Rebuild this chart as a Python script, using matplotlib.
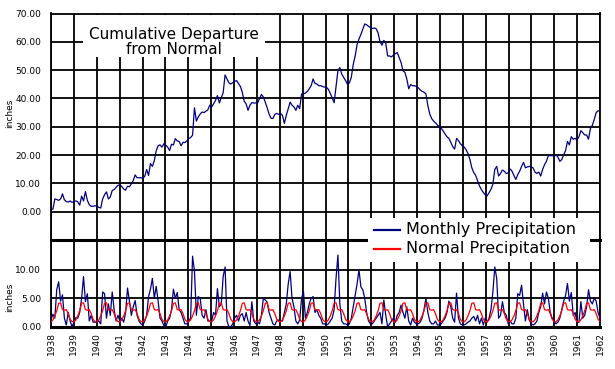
import numpy as np
import matplotlib
matplotlib.use("Agg")
import matplotlib.pyplot as plt
from matplotlib.patches import Rectangle
from matplotlib.lines import Line2D

# ---- data (monthly, Jan 1938 .. Dec 1961) ----
years = list(range(1938, 1963))

# normal precipitation, Jan..Dec (inches)
normal_month = [0.85, 1.2, 1.9, 2.8, 4.1, 4.2, 3.0, 2.9, 3.0, 2.3, 1.3, 0.9]

# cumulative departure from normal (inches), one row per year
cum_departure = [
    0.8, 0.9, 4.5, 4.3, 4.0, 4.5, 6.3, 4.2, 3.6, 3.4, 3.8, 3.3,        # 1938
    3.6, 3.8, 3.5, 2.3, 5.5, 3.8, 7.1, 4.0, 2.5, 1.9, 1.9, 2.1,        # 1939
    2.0, 1.5, 1.3, 4.5, 6.0, 7.0, 4.5, 5.2, 7.5, 7.8, 8.6, 9.3,        # 1940
    9.5, 8.9, 8.0, 7.6, 9.0, 8.8, 9.8, 11.0, 13.0, 12.0, 12.0, 12.0,   # 1941
    11.8, 12.5, 14.9, 12.8, 17.0, 16.0, 18.0, 21.5, 23.3, 23.6, 22.8, 24.0,  # 1942
    23.5, 22.8, 21.6, 23.8, 23.6, 25.8, 25.0, 24.8, 23.3, 24.5, 24.4, 25.0,  # 1943
    25.8, 26.2, 27.0, 36.7, 32.0, 33.5, 34.5, 35.2, 35.0, 35.5, 36.0, 37.6,  # 1944
    37.0, 38.1, 39.3, 41.0, 38.4, 40.2, 42.0, 48.3, 46.9, 45.5, 45.1, 45.6,  # 1945
    46.0, 46.3, 45.3, 44.2, 42.2, 39.0, 38.1, 35.8, 37.6, 38.5, 38.4, 38.4,  # 1946
    38.4, 39.9, 41.4, 40.5, 38.7, 36.7, 34.5, 33.0, 32.9, 34.4, 34.7, 34.4,  # 1947
    34.7, 34.0, 31.2, 34.0, 36.4, 38.7, 37.6, 37.0, 35.8, 37.6, 36.4, 41.6,  # 1948
    41.6, 41.9, 42.5, 43.4, 44.5, 46.9, 45.3, 45.1, 44.5, 44.5, 44.2, 44.0,  # 1949
    44.0, 43.2, 41.8, 40.2, 38.5, 44.0, 49.8, 50.9, 48.6, 47.4, 46.3, 45.0,  # 1950
    45.5, 47.5, 52.0, 55.0, 59.0, 61.0, 62.6, 64.5, 66.3, 66.0, 65.5, 65.0,  # 1951
    64.7, 64.9, 64.6, 63.1, 60.0, 58.8, 60.5, 59.5, 55.0, 55.0, 54.7, 55.3,  # 1952
    55.8, 56.2, 54.4, 52.7, 49.8, 49.2, 46.9, 43.4, 44.9, 44.5, 44.5, 44.2,  # 1953
    43.8, 43.0, 42.5, 42.2, 41.6, 37.5, 34.5, 32.9, 32.0, 31.4, 30.6, 30.0,  # 1954
    29.5, 28.5, 27.4, 26.5, 25.9, 24.5, 23.0, 22.1, 25.9, 25.1, 24.0, 23.3,  # 1955
    22.8, 21.9, 20.5, 18.4, 15.5, 13.8, 12.8, 11.0, 9.1, 7.8, 6.8, 6.0,      # 1956
    5.6, 6.7, 7.9, 9.7, 14.9, 16.0, 12.6, 13.5, 14.7, 14.3, 13.5, 13.7,      # 1957
    15.1, 14.3, 12.8, 11.4, 13.1, 14.3, 16.0, 17.4, 15.5, 15.8, 16.0, 15.8,  # 1958
    15.5, 14.0, 13.5, 14.0, 12.6, 14.9, 16.6, 17.8, 19.8, 19.8, 19.8, 19.5,  # 1959
    20.1, 19.3, 17.8, 18.4, 20.1, 21.6, 24.8, 23.6, 26.5, 25.6, 25.9, 25.3,  # 1960
    26.5, 28.6, 27.9, 27.1, 27.1, 25.6, 29.4, 30.5, 32.6, 35.0, 35.6, 35.6,  # 1961
]

# monthly precipitation (inches)
monthly_precip = [
    1.2, 2.2, 1.5, 6.5, 7.9, 4.5, 5.6, 1.5, 0.3, 2.5, 1.0, 0.0,     # 1938
    0.8, 1.6, 1.5, 2.5, 5.0, 8.8, 4.4, 5.8, 1.0, 2.0, 0.8, 0.8,     # 1939
    0.8, 1.0, 0.5, 6.1, 5.8, 1.5, 4.0, 2.0, 6.1, 3.0, 1.0, 2.0,     # 1940
    1.0, 1.5, 0.8, 2.5, 6.8, 4.5, 2.0, 3.5, 4.6, 2.0, 1.0, 0.5,     # 1941
    0.3, 1.0, 2.0, 5.3, 6.6, 8.5, 5.0, 7.1, 4.5, 1.5, 1.0, 0.2,     # 1942
    0.0, 1.0, 1.5, 3.0, 6.6, 5.0, 6.0, 3.0, 2.5, 1.5, 0.5, 0.5,     # 1943
    1.0, 1.5, 12.4, 9.8, 2.0, 5.3, 5.0, 2.0, 1.5, 3.0, 1.0, 1.0,    # 1944
    1.0, 2.5, 2.0, 6.7, 3.5, 4.0, 8.8, 10.5, 1.0, 0.0, 0.0, 0.5,    # 1945
    1.5, 2.0, 1.0, 2.0, 2.3, 1.0, 2.5, 1.0, 0.2, 4.4, 1.0, 0.5,     # 1946
    0.8, 0.5, 2.0, 5.0, 4.7, 4.3, 2.5, 1.5, 0.5, 0.3, 1.0, 1.2,     # 1947
    1.0, 1.0, 2.5, 4.0, 7.5, 9.7, 5.0, 3.5, 1.0, 0.5, 1.2, 5.0,     # 1948
    6.2, 1.5, 2.5, 4.0, 5.0, 5.3, 2.5, 3.0, 2.0, 1.5, 0.5, 0.5,     # 1949
    0.3, 0.5, 1.0, 1.5, 3.0, 8.5, 12.6, 4.0, 1.0, 0.5, 0.5, 0.3,    # 1950
    0.5, 1.5, 3.5, 5.6, 7.5, 10.0, 7.0, 6.5, 5.0, 2.5, 1.0, 0.5,    # 1951
    0.5, 1.0, 1.5, 2.0, 2.5, 0.5, 4.7, 2.0, 0.0, 0.5, 1.0, 1.5,     # 1952
    0.8, 2.0, 2.5, 3.8, 2.5, 1.5, 3.5, 1.0, 0.3, 1.5, 0.8, 0.5,     # 1953
    0.5, 0.8, 1.5, 3.0, 5.0, 2.5, 1.0, 0.5, 0.5, 1.0, 0.3, 0.3,     # 1954
    0.5, 1.0, 1.5, 2.5, 4.5, 3.5, 1.5, 0.8, 5.9, 1.5, 0.5, 0.3,     # 1955
    0.3, 0.5, 0.8, 1.0, 1.5, 1.8, 1.0, 2.0, 0.5, 1.5, 0.3, 1.5,     # 1956
    0.8, 1.5, 3.0, 6.1, 10.5, 8.5, 1.5, 2.0, 4.4, 2.5, 2.0, 0.5,    # 1957
    1.0, 0.5, 0.5, 1.5, 5.8, 5.5, 7.3, 4.0, 1.0, 3.0, 1.2, 0.5,     # 1958
    0.3, 0.5, 1.0, 2.5, 3.5, 5.9, 4.0, 6.1, 5.0, 2.5, 1.5, 1.0,     # 1959
    0.5, 0.8, 1.5, 3.0, 4.5, 5.5, 7.6, 4.5, 6.0, 2.0, 2.5, 0.8,     # 1960
    0.8, 4.4, 1.5, 2.0, 3.5, 6.5, 4.5, 4.0, 5.0, 4.5, 2.5, 1.5,     # 1961
]

n = len(monthly_precip)
t = np.linspace(years[0], years[-1], n)
normal_precip = np.tile(normal_month, n // 12)

W, H = 615, 369
fig = plt.figure(figsize=(W / 100, H / 100), dpi=100)
fig.patch.set_facecolor("white")

TICK_FS = 6.5
GRID_LW = 1.3

# ---- top panel: cumulative departure ----
ax1 = fig.add_axes([51 / W, 1 - 240 / H, 549 / W, 226.5 / H])
ax1.plot(t, cum_departure, color="#000080", lw=0.9, zorder=3)
ax1.set_xlim(years[0], years[-1])
ax1.set_ylim(-10, 70)
ax1.set_yticks(range(0, 71, 10))
ax1.set_yticklabels([f"{v:.2f}" for v in range(0, 71, 10)])
ax1.set_xticks(years)
ax1.tick_params(axis="x", labelbottom=False, length=0)
ax1.tick_params(axis="y", length=0, pad=7, labelsize=TICK_FS)
ax1.grid(True, color="black", lw=GRID_LW)
for s in ["left", "right", "top"]:
    ax1.spines[s].set_linewidth(GRID_LW)
ax1.spines["bottom"].set_visible(False)

# ---- bottom panel: monthly vs normal precipitation ----
ax2 = fig.add_axes([51 / W, 1 - 326.7 / H, 549 / W, 86.7 / H])
ax2.plot(t, monthly_precip, color="#000080", lw=0.9, zorder=3)
ax2.plot(t, normal_precip, color="#ff0000", lw=0.9, zorder=3)
ax2.set_xlim(years[0], years[-1])
ax2.set_ylim(0, 15.24)
ax2.set_yticks([0, 5, 10])
ax2.set_yticklabels(["0.00", "5.00", "10.00"])
ax2.set_xticks(years)
ax2.set_xticklabels([str(y) for y in years], rotation=90)
ax2.tick_params(axis="x", length=0, pad=4, labelsize=TICK_FS)
ax2.tick_params(axis="y", length=0, pad=7, labelsize=TICK_FS)
ax2.grid(True, color="black", lw=GRID_LW)
for s in ["left", "right"]:
    ax2.spines[s].set_linewidth(GRID_LW)
for s in ["top", "bottom"]:
    ax2.spines[s].set_linewidth(2.2)

fig.text(10 / W, 1 - 113 / H, "inches", rotation=90, ha="center", va="center", fontsize=TICK_FS)
fig.text(10 / W, 1 - 297 / H, "inches", rotation=90, ha="center", va="center", fontsize=TICK_FS)

# title box
fig.patches.append(Rectangle((83 / W, 1 - 57 / H), 182 / W, 42 / H, transform=fig.transFigure,
                             facecolor="white", edgecolor="none", zorder=5))
fig.text(174 / W, 1 - 34.5 / H, "Cumulative Departure", ha="center", va="center", fontsize=11, zorder=6)
fig.text(174 / W, 1 - 49.5 / H, "from Normal", ha="center", va="center", fontsize=11, zorder=6)

# legend box
fig.patches.append(Rectangle((368 / W, 1 - 262 / H), 222 / W, 44 / H, transform=fig.transFigure,
                             facecolor="white", edgecolor="none", zorder=5))
for y_px, col, label in [(229.5, "#000080", "Monthly Precipitation"),
                         (248.5, "#ff0000", "Normal Precipitation")]:
    fig.lines.append(Line2D([374 / W, 400 / W], [1 - y_px / H] * 2, transform=fig.transFigure,
                            color=col, lw=1.6, zorder=6))
    fig.text(406 / W, 1 - y_px / H, label, ha="left", va="center", fontsize=11.5, zorder=6)

fig.savefig("out.png", dpi=100)
